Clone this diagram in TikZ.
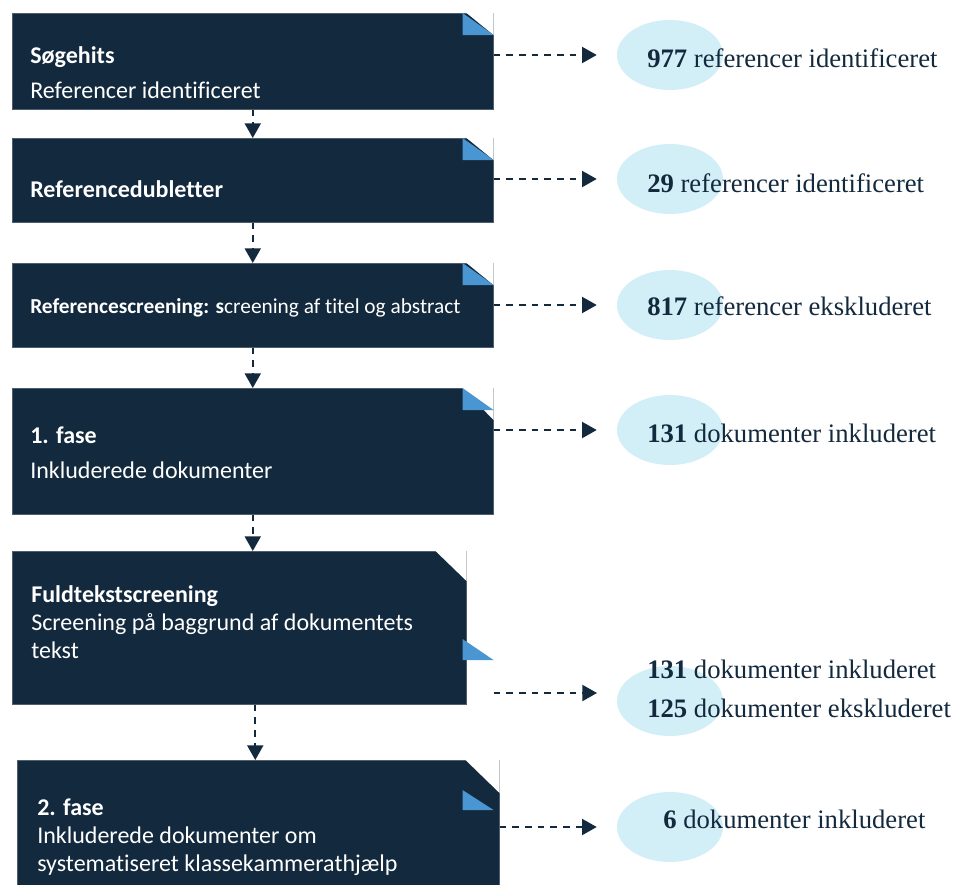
\documentclass[tikz,border=0pt]{standalone}
\usepackage{fontspec}
\setmainfont{Liberation Serif}
\newfontfamily\boxfont[Ligatures=NoCommon]{Carlito}
\usetikzlibrary{arrows.meta,positioning,shapes.geometric}
\definecolor{navy}{HTML}{13293D}
\definecolor{foldblue}{HTML}{4A96D2}
\definecolor{lightblue}{HTML}{D2EEF6}
\newcommand{\pxu}{0.75pt}
\tikzset{
	box/.style={fill=navy,draw=navy!75!white,line width=0.4pt,rectangle,anchor=north west,inner sep=0pt},
	boxtext/.style={anchor=base west,text=white,font=\boxfont\fontsize{18}{21}\selectfont,inner sep=0pt},
	count/.style={ellipse,fill=lightblue,minimum width=106*\pxu,minimum height=70*\pxu,inner sep=0pt},
	counttext/.style={anchor=base west,text=navy,font=\fontsize{20}{24}\selectfont,inner sep=0pt},
	flow/.style={navy,line width=1.5pt,dash pattern=on 5pt off 4.5pt,-{Triangle[length=11pt,width=12pt]}},
	fold/.style={fill=foldblue},
	cut/.style={fill=white}
}

\begin{document}
\begin{tikzpicture}[x=\pxu,y=-\pxu]
	\useasboundingbox (0,0) rectangle (961,885);
	\clip (0,0) rectangle (961,885);
	% boxes
	\node[box,minimum width=481*\pxu,minimum height=96*\pxu] (hits) at (12,13) {};
	\node[box,minimum width=481*\pxu,minimum height=84*\pxu] (dubl) at (12,138) {};
	\node[box,minimum width=481*\pxu,minimum height=84*\pxu] (screen) at (12,263) {};
	\node[box,minimum width=481*\pxu,minimum height=126*\pxu] (fase1) at (12,388) {};
	\node[box,minimum width=454*\pxu,minimum height=153*\pxu] (full) at (12,551) {};
	\node[box,minimum width=482*\pxu,minimum height=140*\pxu] (fase2) at (17,760) {};
	% folded corners
	\foreach \b in {hits,dubl,screen} {
		\fill[cut] ([shift={(-27,0)}]\b.north east) -- (\b.north east) -- ([shift={(0,22)}]\b.north east) -- cycle;
		\fill[fold] ([shift={(-31,0)}]\b.north east) -- ([shift={(-31,22)}]\b.north east) -- ([shift={(0,22)}]\b.north east) -- cycle;
	}
	\fill[cut] ([shift={(-31,0)}]fase1.north east) -- (fase1.north east) -- ([shift={(0,32)}]fase1.north east) -- cycle;
	\fill[fold] ([shift={(-31,0)}]fase1.north east) -- ([shift={(-31,22)}]fase1.north east) -- ([shift={(0,22)}]fase1.north east) -- cycle;
	\fill[cut] ([shift={(-31,0)}]full.north east) -- (full.north east) -- ([shift={(0,30)}]full.north east) -- cycle;
	\fill[fold] ([shift={(-4,88)}]full.north east) -- ([shift={(-4,109)}]full.north east) -- ([shift={(27,109)}]full.north east) -- cycle;
	\fill[cut] ([shift={(-34,0)}]fase2.north east) -- (fase2.north east) -- ([shift={(0,33)}]fase2.north east) -- cycle;
	\fill[fold] ([shift={(-37,30)}]fase2.north east) -- ([shift={(-37,50)}]fase2.north east) -- ([shift={(-6,50)}]fase2.north east) -- cycle;
	% box texts
	\node[boxtext] (l1a) at (30,63) {\bfseries Søgehits};
	\node[boxtext] (l1b) at (30,98) {Referencer identificeret};
	\node[boxtext] (l2) at (30,197) {\bfseries Referencedubletter};
	\node[boxtext,font=\boxfont\fontsize{16}{18}\selectfont] (l3) at (30,313) {\textbf{Referencescreening: s}creening af titel og abstract};
	\node[boxtext] (l4a) at (30,443) {\bfseries 1. fase};
	\node[boxtext] (l4b) at (30,478) {Inkluderede dokumenter};
	\node[boxtext] (l5a) at (31,602) {\bfseries Fuldtekstscreening};
	\node[boxtext] (l5b) at (31,630) {Screening på baggrund af dokumentets};
	\node[boxtext] (l5c) at (31,658) {tekst};
	\node[boxtext] (l6a) at (37,815) {\bfseries 2. fase};
	\node[boxtext] (l6b) at (37,843) {Inkluderede dokumenter om};
	\node[boxtext] (l6c) at (37,871) {systematiseret klassekammerathjælp};
	% counts
	\node[count] (n977) at (670,55) {};
	\node[count] (n29) at (670,179) {};
	\node[count] (n817) at (670,305) {};
	\node[count] (n131) at (670,430) {};
	\node[count] (n256) at (670,701) {};
	\node[count] (n6) at (670,827) {};
	\node[counttext] (t977) at (647,67) {\textbf{977} referencer identificeret};
	\node[counttext] (t29) at (647,192) {\textbf{29} referencer identificeret};
	\node[counttext] (t817) at (647,315) {\textbf{817} referencer ekskluderet};
	\node[counttext] (t131) at (647,442) {\textbf{131} dokumenter inkluderet};
	\node[counttext] (t131b) at (647,678) {\textbf{131} dokumenter inkluderet};
	\node[counttext] (t125) at (647,717) {\textbf{125} dokumenter ekskluderet};
	\node[counttext] (t6) at (663,828) {\textbf{6} dokumenter inkluderet};
	% connectors
	\draw[flow] (hits) -- (dubl);
	\draw[flow] (dubl) -- (screen);
	\draw[flow] (screen) -- (fase1);
	\draw[flow] (fase1.south) -- (fase1.south |- full.north);
	\draw[flow] ([xshift=16*\pxu]full.south) -- ([xshift=16*\pxu]full.south |- fase2.north);
	\coordinate (in256) at (597,693);
	\draw[flow] (hits.east |- n977) -- ([xshift=-20*\pxu]n977.west);
	\draw[flow] (dubl.east |- n29) -- ([xshift=-20*\pxu]n29.west);
	\draw[flow] (screen.east |- n817) -- ([xshift=-20*\pxu]n817.west);
	\draw[flow] (fase1.east |- n131) -- ([xshift=-20*\pxu]n131.west);
	\draw[flow] (hits.east |- in256) -- (in256);
	\draw[flow] (fase2.east |- n6) -- ([xshift=-20*\pxu]n6.west);
\end{tikzpicture}
\end{document}
